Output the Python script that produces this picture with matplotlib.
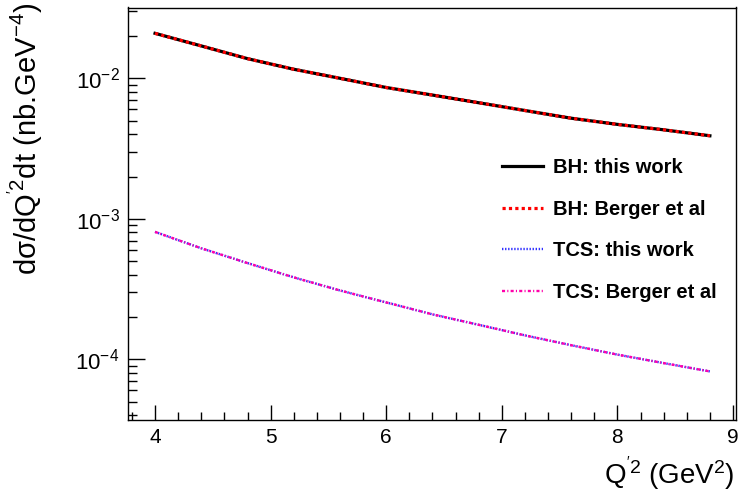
import matplotlib
matplotlib.use("Agg")
import matplotlib.pyplot as plt
from matplotlib.ticker import LogLocator, MultipleLocator, LogFormatterMathtext, NullFormatter

plt.rcParams['font.family'] = ['Liberation Sans', 'DejaVu Sans']
plt.rcParams['mathtext.fontset'] = 'custom'
plt.rcParams['mathtext.rm'] = 'Liberation Sans'
plt.rcParams['mathtext.it'] = 'Liberation Sans:italic'
plt.rcParams['mathtext.bf'] = 'Liberation Sans:bold'
plt.rcParams['lines.scale_dashes'] = False

# Data
q2 = [4.0, 4.4, 4.8, 5.2, 5.6, 6.0, 6.4, 6.8, 7.2, 7.6, 8.0, 8.4, 8.8]
bh_this = [0.0209, 0.0170, 0.0138, 0.0116, 0.0100, 0.0086, 0.0076, 0.0067,
           0.0059, 0.0052, 0.0047, 0.0043, 0.0039]
bh_berger = [0.0209, 0.0170, 0.0138, 0.0116, 0.0100, 0.0086, 0.0076, 0.0067,
             0.0059, 0.0052, 0.0047, 0.0043, 0.0039]
tcs_this = [8.07e-4, 6.17e-4, 4.84e-4, 3.83e-4, 3.09e-4, 2.54e-4, 2.09e-4,
            1.76e-4, 1.48e-4, 1.26e-4, 1.08e-4, 9.4e-5, 8.2e-5]
tcs_berger = [8.07e-4, 6.17e-4, 4.84e-4, 3.83e-4, 3.09e-4, 2.54e-4, 2.09e-4,
              1.76e-4, 1.48e-4, 1.26e-4, 1.08e-4, 9.4e-5, 8.2e-5]
labels = ["BH: this work", "BH: Berger et al", "TCS: this work", "TCS: Berger et al"]

fig = plt.figure(figsize=(7.38, 4.95), dpi=100)
ax = fig.add_axes([128/738, 75/495, (736-128)/738, (420-7.5)/495])

ax.plot(q2, bh_this, color='black', lw=2.3, ls='-', label=labels[0])
ax.plot(q2, bh_berger, color='#ff0000', lw=2.3, ls=(0, (2.3, 2.3)), label=labels[1])
ax.plot(q2, tcs_this, color='#3030ff', lw=1.7, ls=(0, (1.0, 1.2)), label=labels[2])
ax.plot(q2, tcs_berger, color='#ff00aa', lw=1.7, ls=(0, (2.2, 1.6, 0.8, 1.6)), label=labels[3])

ax.set_yscale('log')
ax.set_xlim(3.766, 9.026)
ax.set_ylim(10**-4.432, 10**-1.496)

ax.xaxis.set_major_locator(MultipleLocator(1))
ax.xaxis.set_minor_locator(MultipleLocator(0.2))
ax.yaxis.set_major_locator(LogLocator(base=10, numticks=10))
ax.yaxis.set_minor_locator(LogLocator(base=10, subs=range(2, 10), numticks=10))
ax.yaxis.set_major_formatter(LogFormatterMathtext())
ax.yaxis.set_minor_formatter(NullFormatter())

ax.tick_params(which='both', direction='in', top=False, right=False, colors='black')
ax.tick_params(axis='y', which='major', length=12, width=1, pad=6, labelsize=16)
ax.tick_params(axis='y', which='minor', length=6.5, width=1)
ax.tick_params(axis='x', which='major', length=10.5, width=1, pad=6, labelsize=15)
ax.tick_params(axis='x', which='minor', length=5.5, width=1)
for s in ax.spines.values():
    s.set_linewidth(1.0)

ax.set_xlabel(r"Q$\mathregular{^{'2}}$ (GeV$\mathregular{^{2}}$)", fontsize=20, loc='right')
ax.xaxis.set_label_coords((735 - 128) / 608, (420 - 484) / 412.5)
ax.xaxis.label.set_verticalalignment('baseline')
ax.set_ylabel(r"d$\mathregular{\sigma}$/dQ$\mathregular{^{'2}}$dt (nb.GeV$\mathregular{^{-4}}$)",
              fontsize=21, loc='top')
ax.yaxis.set_label_coords((37 - 128) / 608, (420 - 3) / 412.5)
ax.yaxis.label.set_verticalalignment('baseline')

leg = fig.legend(loc='upper left', bbox_to_anchor=(502/738, 1 - 158/495), frameon=False,
                 prop={'weight': 'bold', 'size': 14.5}, handlelength=2.05, handletextpad=0.5,
                 labelspacing=1.12, borderpad=0, borderaxespad=0)

fig.savefig("out.png", dpi=100)
